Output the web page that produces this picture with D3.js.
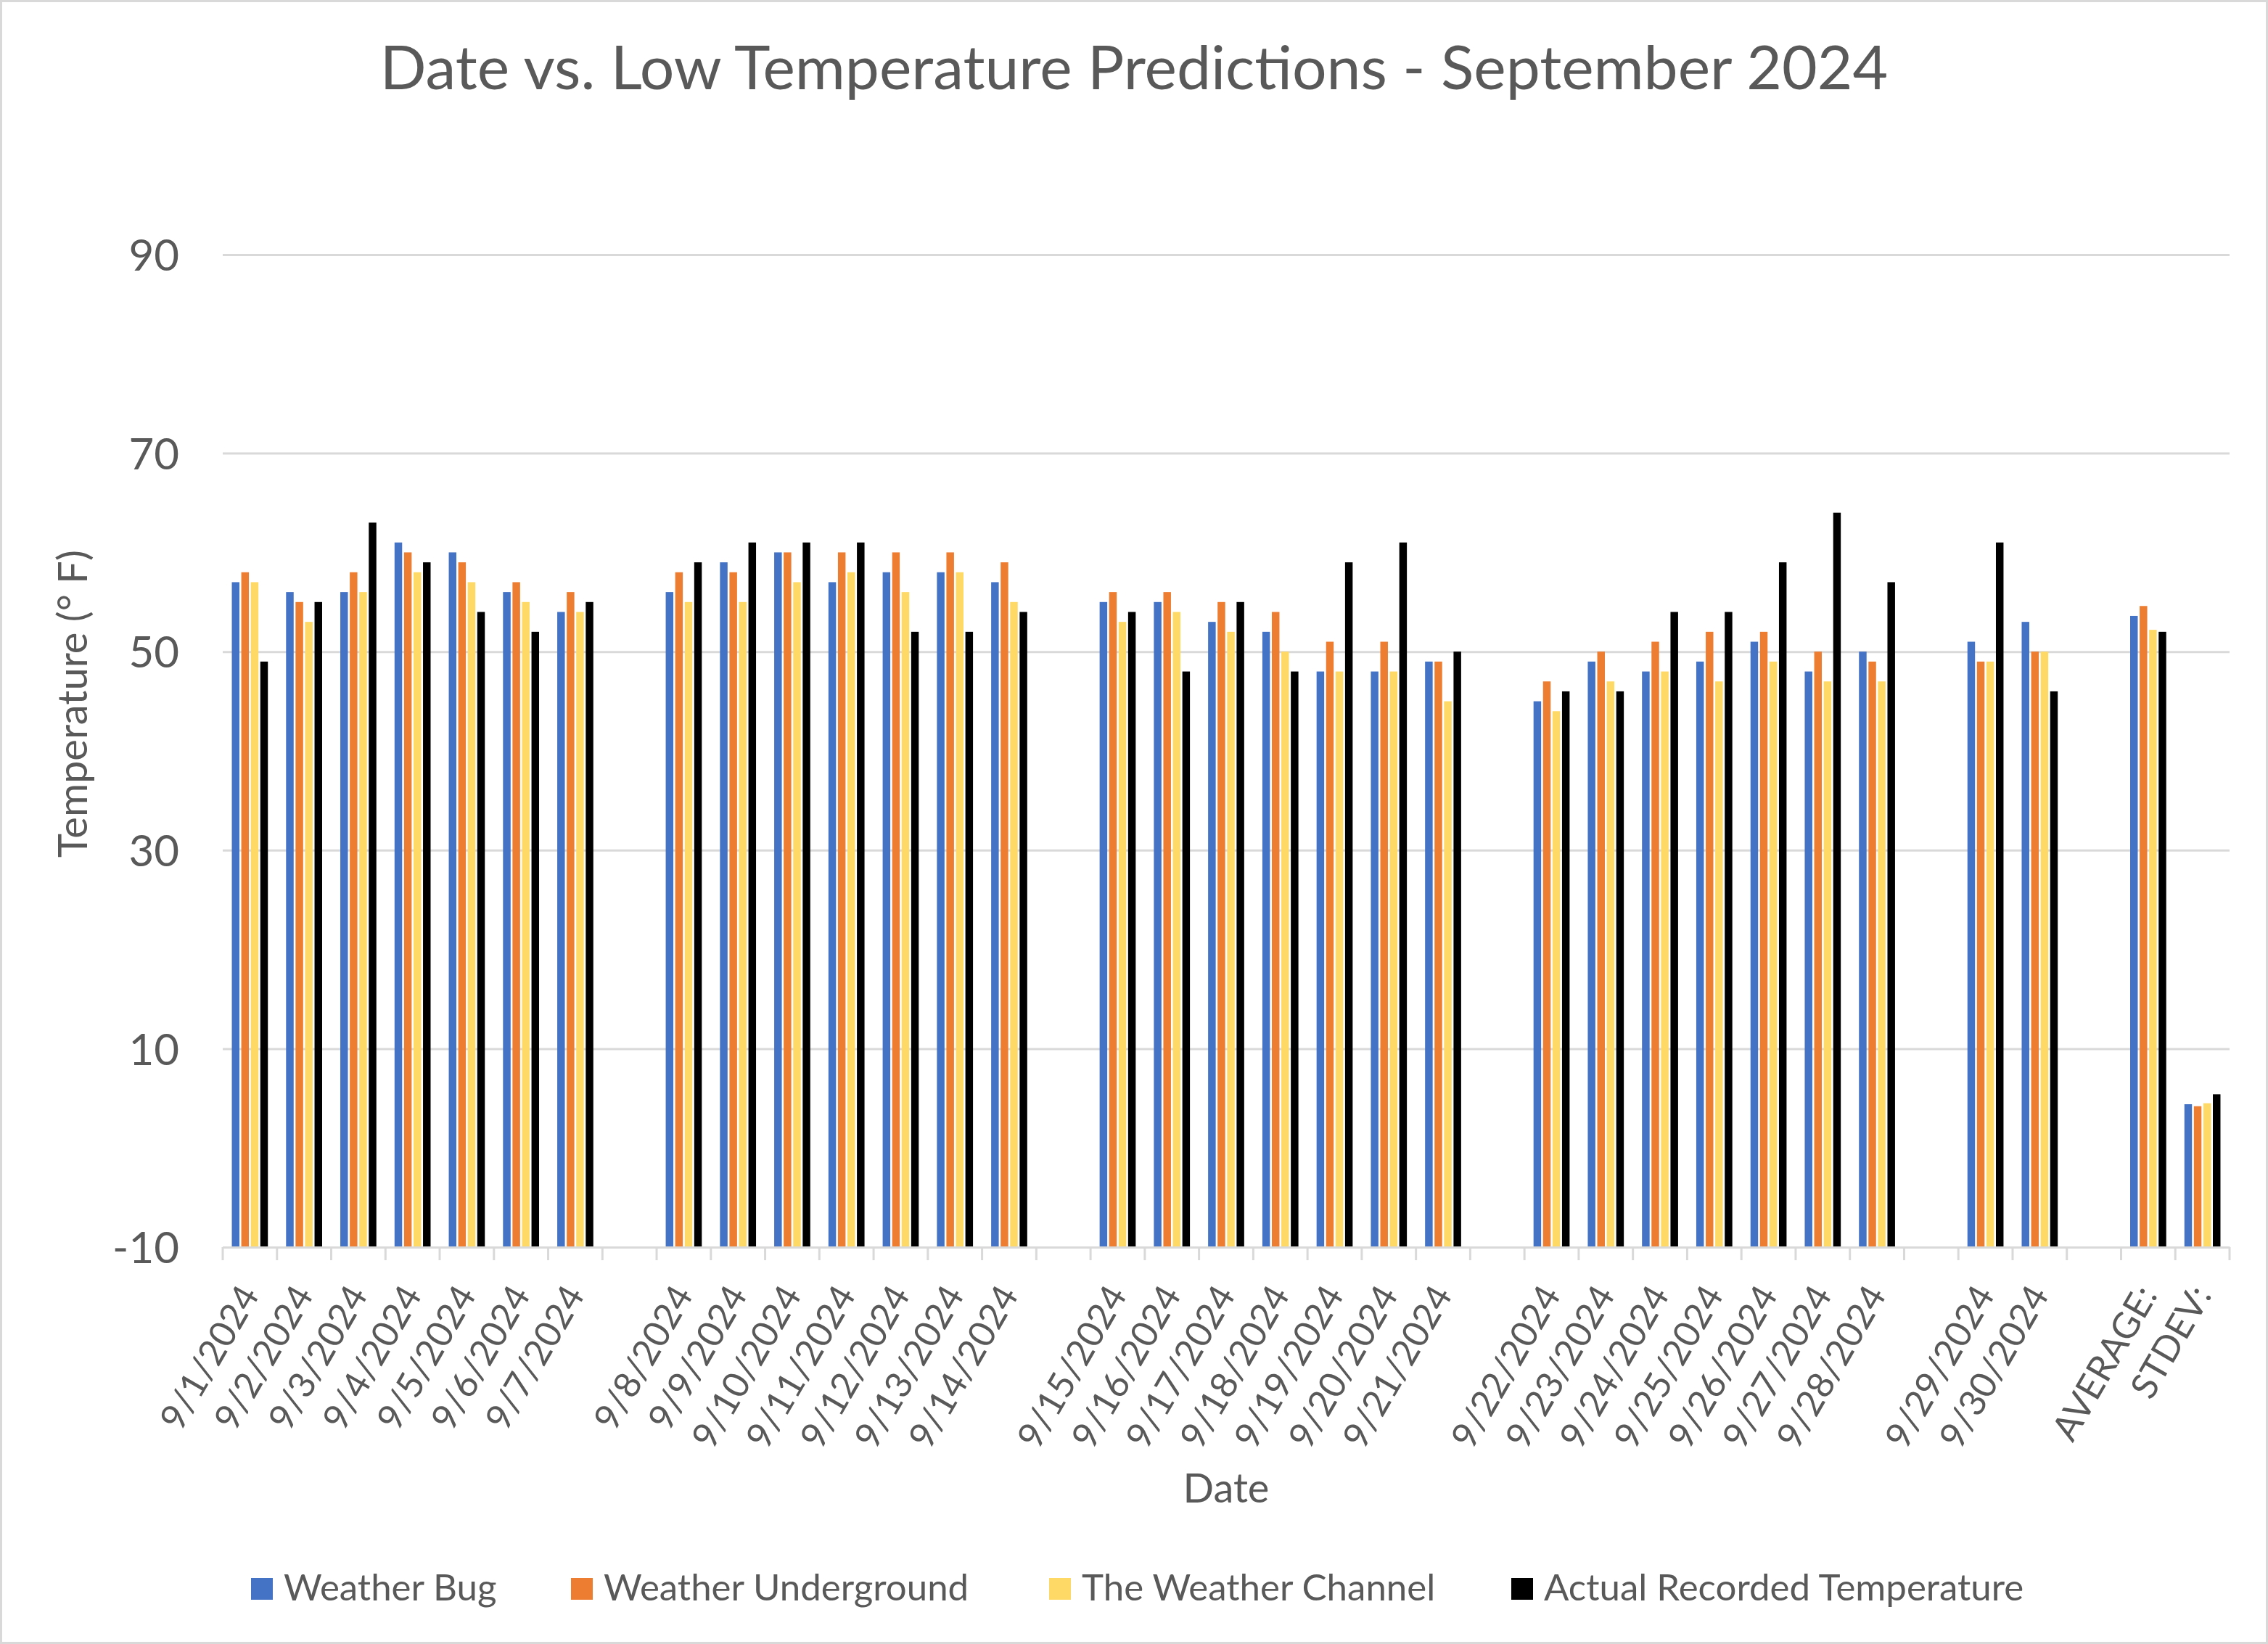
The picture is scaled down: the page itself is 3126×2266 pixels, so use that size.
<!DOCTYPE html>
<html>
<head>
<meta charset="utf-8">
<script src="https://cdn.jsdelivr.net/npm/d3@7"></script>
<style>
    body { margin: 0; background: #fff; }
    text { font-family: Lato, "Open Sans", sans-serif; fill: #595959; }
</style>
</head>
<body>
<div id="chart"></div>
<script>

// categories (blank entries are the empty slots between weeks)
const dates = [
    "9/1/2024", "9/2/2024", "9/3/2024", "9/4/2024", "9/5/2024", "9/6/2024", "9/7/2024", "",
    "9/8/2024", "9/9/2024", "9/10/2024", "9/11/2024", "9/12/2024", "9/13/2024", "9/14/2024", "",
    "9/15/2024", "9/16/2024", "9/17/2024", "9/18/2024", "9/19/2024", "9/20/2024", "9/21/2024", "",
    "9/22/2024", "9/23/2024", "9/24/2024", "9/25/2024", "9/26/2024", "9/27/2024", "9/28/2024", "",
    "9/29/2024", "9/30/2024", "", "AVERAGE:", "STDEV:"
];

const seriesNames = ["Weather Bug", "Weather Underground", "The Weather Channel", "Actual Recorded Temperature"];
const seriesColors = ["#4472C4", "#ED7D31", "#FFD966", "#000000"];

const weatherBug = [57, 56, 56, 61, 60, 56, 54, null, 56, 59, 60, 57, 58, 58, 57, null,
    55, 55, 53, 52, 48, 48, 49, null, 45, 49, 48, 49, 51, 48, 50, null, 51, 53, null, 53.6, 4.4];
const weatherUnderground = [58, 55, 58, 60, 59, 57, 56, null, 58, 58, 60, 60, 60, 60, 59, null,
    56, 56, 55, 54, 51, 51, 49, null, 47, 50, 51, 52, 52, 50, 49, null, 49, 50, null, 54.6, 4.2];
const weatherChannel = [57, 53, 56, 58, 57, 55, 54, null, 55, 55, 57, 58, 56, 58, 55, null,
    53, 54, 52, 50, 48, 48, 45, null, 44, 47, 48, 47, 49, 47, 47, null, 49, 50, null, 52.2, 4.5];
const actualTemp = [49, 55, 63, 59, 54, 52, 55, null, 59, 61, 61, 61, 52, 52, 54, null,
    54, 48, 55, 48, 59, 61, 50, null, 46, 46, 54, 54, 59, 64, 57, null, 61, 46, null, 52.0, 5.4];

const yTicks = [-10, 10, 30, 50, 70, 90];

const allSeries = [weatherBug, weatherUnderground, weatherChannel, actualTemp];

// sizes
const width = 3126, height = 2266;
const plot = {left: 307, right: 3073, top: 351, bottom: 1719};

const svg = d3.select("#chart").append("svg")
    .attr("width", width)
    .attr("height", height);

// chart border
svg.append("rect")
    .attr("x", 1.5).attr("y", 1.5)
    .attr("width", width - 3).attr("height", height - 3)
    .attr("fill", "#fff")
    .attr("stroke", "#d9d9d9")
    .attr("stroke-width", 3);

// scales
const x0 = d3.scaleBand()
    .domain(d3.range(dates.length))
    .range([plot.left, plot.right])
    .paddingInner(0.3)
    .paddingOuter(0.15);

const x1 = d3.scaleBand()
    .domain(d3.range(seriesNames.length))
    .range([0, x0.bandwidth()])
    .paddingInner(0.2)
    .paddingOuter(0.1);

const y = d3.scaleLinear()
    .domain([-10, 90])
    .range([plot.bottom, plot.top]);

// y axis + gridlines
const yAxis = svg.append("g")
    .attr("transform", `translate(${plot.left},0)`)
    .call(d3.axisLeft(y)
        .tickValues(yTicks)
        .tickFormat(d => String(d))   // plain hyphen, like the original
        .tickSize(-(plot.right - plot.left))
        .tickPadding(60));

yAxis.select(".domain").remove();
yAxis.selectAll(".tick line")
    .attr("stroke", "#d9d9d9")
    .attr("stroke-width", 3);
yAxis.selectAll(".tick text")
    .style("font-size", "60px")
    .attr("dy", "0.36em");

// bars
const groups = svg.append("g").selectAll("g")
    .data(dates.map((d, i) => i))
    .enter()
    .append("g")
    .attr("transform", i => `translate(${x0(i)},0)`);

groups.selectAll("rect")
    .data(i => allSeries.map((s, k) => ({k: k, v: s[i]})).filter(d => d.v !== null))
    .enter()
    .append("rect")
    .attr("x", d => x1(d.k))
    .attr("width", x1.bandwidth())
    .attr("y", d => y(d.v))
    .attr("height", d => y(-10) - y(d.v))
    .attr("fill", d => seriesColors[d.k]);

// x axis
const xAxis = svg.append("g")
    .attr("transform", `translate(0,${plot.bottom})`)
    .call(d3.axisBottom(x0).tickSize(0).tickFormat(i => dates[i]));

xAxis.select(".domain")
    .attr("stroke", "#d9d9d9")
    .attr("stroke-width", 3);

xAxis.selectAll(".tick text")
    .style("font-size", "50px")
    .style("text-anchor", "end")
    .attr("x", 0).attr("y", 0).attr("dy", 0)
    .attr("transform", "translate(14,66) rotate(-60)");

// tick marks sit between categories
const step = x0.step();
svg.append("g").selectAll("line")
    .data(d3.range(dates.length + 1))
    .enter()
    .append("line")
    .attr("x1", i => plot.left + i * step)
    .attr("x2", i => plot.left + i * step)
    .attr("y1", plot.bottom)
    .attr("y2", plot.bottom + 18)
    .attr("stroke", "#d9d9d9")
    .attr("stroke-width", 3);

// title
svg.append("text")
    .attr("x", 1563)
    .attr("y", 123)
    .attr("text-anchor", "middle")
    .style("font-size", "84px")
    .text("Date vs. Low Temperature Predictions - September 2024");

// axis titles
svg.append("text")
    .attr("x", (plot.left + plot.right) / 2)
    .attr("y", 2071)
    .attr("text-anchor", "middle")
    .style("font-size", "56px")
    .text("Date");

svg.append("text")
    .attr("transform", "translate(120,970) rotate(-90)")
    .attr("text-anchor", "middle")
    .style("font-size", "56px")
    .text("Temperature (° F)");

// legend, items at the same spots as in the original
const legendX = [346, 787, 1446, 2083];
const items = svg.append("g").selectAll("g")
    .data(seriesNames)
    .enter()
    .append("g")
    .attr("transform", (d, i) => `translate(${legendX[i]},0)`);

items.append("rect")
    .attr("width", 30).attr("height", 30)
    .attr("y", 2175)
    .attr("fill", (d, i) => seriesColors[i]);

items.append("text")
    .attr("x", 45)
    .attr("y", 2206)
    .style("font-size", "51px")
    .text(d => d);

</script>
</body>
</html>
